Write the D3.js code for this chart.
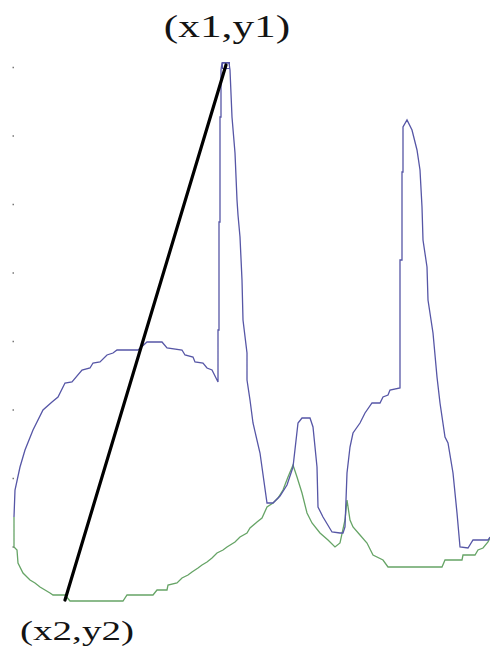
<!DOCTYPE html>
<html>
<head>
<meta charset="utf-8">
<script src="https://cdn.jsdelivr.net/npm/d3@7"></script>
<style>
  html, body { margin: 0; padding: 0; background: #fff; }
  .lbl { font-family: "Liberation Serif", "Times New Roman", serif; fill: #141414; }
</style>
</head>
<body>
<div id="my_dataviz"></div>
<script>
// sample positions / values for the blue trace
const blueX = [0, 0.5, 3, 5.5, 9.5, 14.5, 19, 22, 25.5, 29, 34, 38, 39.5, 43, 46.5, 49.5, 51.5, 62, 66.5, 74,
  76.5, 84, 85.5, 89.5, 90.5, 94.5, 96.5, 99, 102, 102, 102.5, 102.5, 103, 103, 103.5, 103.5, 104, 107.5, 108, 109,
  110.5, 111.5, 112, 113, 114, 114.5, 116.5, 116.5, 118, 119.5, 123, 126.5, 129.5, 133, 136.5, 139.5, 142, 144, 148, 149.5,
  151.5, 152, 154.5, 159, 163, 164.5, 165.5, 166.5, 168, 169.5, 173, 175.5, 179, 183, 184.5, 187, 188, 193, 193, 194,
  194, 194.5, 194.5, 196.5, 199, 201.5, 203, 204, 204.5, 206.5, 207, 209.5, 211.5, 213, 215.5, 217, 219.5, 221.5, 223, 227,
  229.5, 237, 238];
const blueY = [49, 62.5, 74, 82.5, 92.5, 102.5, 106.5, 109, 116, 116.5, 122.5, 123.5, 126, 126.5, 130, 131, 132.5, 132.5, 136.5, 136.5,
  133.5, 132.5, 130, 129, 126.5, 126, 123.5, 122.5, 116.5, 142.5, 142.5, 196.5, 196.5, 249, 249, 272.5, 276, 276, 272.5, 249,
  231, 207.5, 200, 189, 167.5, 147.5, 131, 117.5, 107.5, 96, 81, 56, 56, 59.5, 65, 74, 96, 98.5, 98.5, 94,
  74, 54, 49, 41.5, 41, 41, 44, 71, 84, 91, 96, 101, 106, 106, 109, 110, 112.5, 113.5, 177.5, 177.5,
  221.5, 221.5, 244, 247.5, 242.5, 232.5, 222.5, 204, 187.5, 174, 157.5, 141, 119, 106, 89, 86, 71, 51, 34, 33.5,
  37.5, 37.5, 39];

// sample positions / values for the green trace
const greenX = [0, 0, 1.5, 2, 4.5, 8, 10.5, 13, 18, 19.5, 25.5, 28, 54.5, 56.5, 69.5, 71.5, 76.5, 77, 81.5, 84,
  87, 89, 92, 94, 96.5, 99, 101.5, 104.5, 106.5, 110.5, 113, 116.5, 118, 121.5, 124, 126.5, 129.5, 132, 134.5, 137,
  139.5, 141.5, 144, 146.5, 149, 153, 157, 160.5, 163, 165.5, 166.5, 168, 169.5, 173, 176.5, 179.5, 184.5, 187, 214, 215.5,
  224, 224.5, 230.5, 232, 234.5, 237, 238];
const greenY = [49, 34, 32.5, 26, 21, 17.5, 16, 14, 11, 10, 10, 7, 7, 10, 10, 12.5, 12.5, 15, 16, 18.5,
  20, 21.5, 23.5, 25, 26.5, 28.5, 31, 32.5, 34, 36.5, 39, 41, 43.5, 46.5, 48.5, 54, 56, 58.5, 62.5, 69,
  75, 69, 61, 51, 46, 41, 37.5, 34, 36, 47.5, 57.5, 47.5, 44, 40, 36, 30, 27.5, 24, 24, 27.5,
  27.5, 30, 30, 32.5, 33.5, 36.5, 38.5];

// the marked segment and its end labels
const segX = [106, 25.5];
const segY = [275, 7.5];
const segLabels = ["(x1,y1)", "(x2,y2)"];

// y tick positions (dots on the left edge)
const yTicks = [34.25, 68.5, 102.75, 137, 171.25, 205.5, 239.75, 274];

const W = 490, H = 651;

const svg = d3.select("#my_dataviz")
  .append("svg")
    .attr("width", W)
    .attr("height", H)
    .style("display", "block")
    .style("background", "#fff");

const x = d3.scaleLinear().domain([0, 238]).range([14, 490]);
const y = d3.scaleLinear().domain([0, 274]).range([615, 67]);

// faint tick dots, no labels
const yAxis = svg.append("g")
  .attr("transform", "translate(14,0)")
  .call(d3.axisLeft(y).tickValues(yTicks).tickSize(1.5).tickFormat(""));
yAxis.select(".domain").remove();
yAxis.selectAll(".tick line").attr("stroke", "#777").attr("stroke-width", 1.5);

const line = d3.line()
  .x(d => x(d[0]))
  .y(d => y(d[1]));

const green = greenX.map((v, i) => [v, greenY[i]]);
const blue = blueX.map((v, i) => [v, blueY[i]]);

svg.append("path")
  .datum(green)
  .attr("fill", "none")
  .attr("stroke", "#66a466")
  .attr("stroke-width", 1.3)
  .attr("d", line);

svg.append("path")
  .datum(blue)
  .attr("fill", "none")
  .attr("stroke", "#5656a6")
  .attr("stroke-width", 1.3)
  .attr("d", line);

// small box at the top point
svg.append("rect")
  .attr("x", x(segX[0]) - 3.5)
  .attr("y", y(segY[0]) - 2.5)
  .attr("width", 7)
  .attr("height", 6)
  .attr("fill", "none")
  .attr("stroke", "#5656a6")
  .attr("stroke-width", 1);

svg.append("line")
  .attr("x1", x(segX[0]))
  .attr("y1", y(segY[0]))
  .attr("x2", x(segX[1]))
  .attr("y2", y(segY[1]))
  .attr("stroke", "#000")
  .attr("stroke-width", 3.2)
  .attr("stroke-linecap", "round");

// labels
svg.append("text")
  .attr("class", "lbl")
  .attr("text-anchor", "middle")
  .attr("font-size", 31)
  .attr("transform", `translate(${x(segX[0]) + 1},${y(segY[0]) - 28}) scale(1.4,1)`)
  .text(segLabels[0]);

svg.append("text")
  .attr("class", "lbl")
  .attr("text-anchor", "middle")
  .attr("font-size", 27)
  .attr("transform", `translate(${x(segX[1]) + 12},${y(segY[1]) + 40}) scale(1.45,1)`)
  .text(segLabels[1]);
</script>
</body>
</html>
